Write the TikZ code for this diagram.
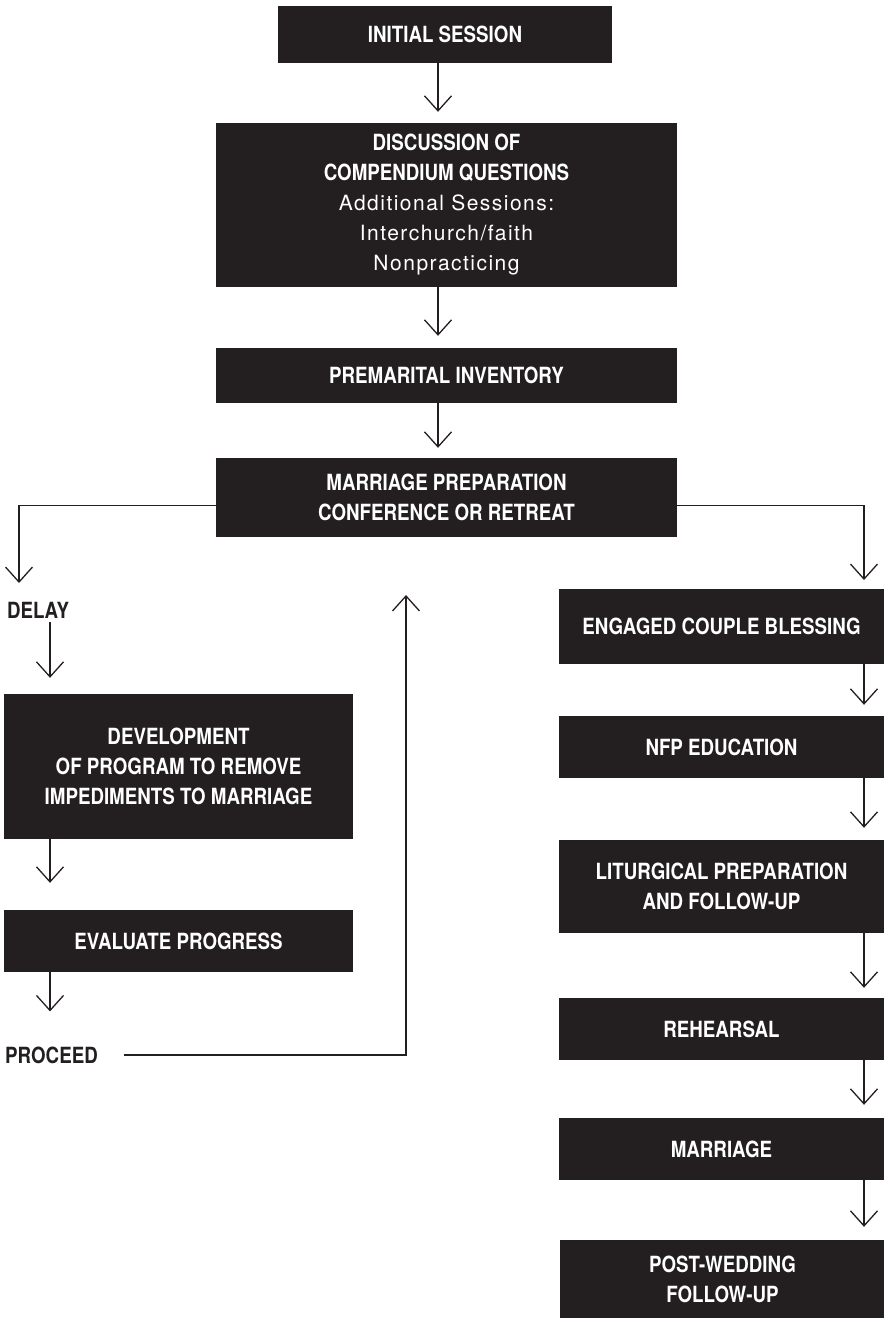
\documentclass[tikz,border=0pt]{standalone}
\usepackage{fontspec}
\setmainfont{TeX Gyre Heros}
\newfontfamily\capsfont{TeX Gyre Heros}[FakeStretch=0.84]
\newfontfamily\spacedfont{TeX Gyre Heros}[LetterSpace=7]
\usetikzlibrary{arrows.meta}
\definecolor{ink}{HTML}{231F20}

\begin{document}
\begin{tikzpicture}[
                x=1pt, y=-1pt,
                darknode/.style={rectangle, fill=ink, text=white, inner sep=0pt, align=center, font=\capsfont\bfseries\fontsize{22.3}{30}\selectfont},
                labelnode/.style={rectangle, inner sep=0pt, text=ink, font=\capsfont\bfseries\fontsize{22.3}{30}\selectfont},
                flow/.style={draw=ink, line width=1.3pt, -{Straight Barb[length=15pt, width=27pt]}},
            ]
            \useasboundingbox (0,0) rectangle (884,1318);

            % Nodes
            \node[darknode, minimum width=334pt, minimum height=57pt]   (initial)      at (445,34.5)    {INITIAL SESSION};
            \node[darknode, minimum width=461pt, minimum height=164pt]  (discussion)   at (446.5,205)   {DISCUSSION OF\\COMPENDIUM QUESTIONS\\{\spacedfont\mdseries\fontsize{21}{30}\selectfont Additional Sessions:}\\{\spacedfont\mdseries\fontsize{21}{30}\selectfont Interchurch/faith}\\{\spacedfont\mdseries\fontsize{21}{30}\selectfont Nonpracticing}};
            \node[darknode, minimum width=461pt, minimum height=55pt]   (inventory)    at (446.5,375.5) {PREMARITAL INVENTORY};
            \node[darknode, minimum width=461pt, minimum height=79pt]   (prep)         at (446.5,497.5) {MARRIAGE PREPARATION\\CONFERENCE OR RETREAT};

            \node[labelnode]                                            (delay)        at (38,610)      {DELAY};
            \node[darknode, minimum width=349pt, minimum height=145pt]  (development)  at (178.5,766.5) {DEVELOPMENT\\OF PROGRAM TO REMOVE\\IMPEDIMENTS TO MARRIAGE};
            \node[darknode, minimum width=349pt, minimum height=62pt]   (evaluate)     at (178.5,941)   {EVALUATE PROGRESS};
            \node[labelnode]                                            (proceed)      at (51.5,1055)   {PROCEED};

            \node[darknode, minimum width=325pt, minimum height=75pt]   (blessing)     at (721.5,626.5) {ENGAGED COUPLE BLESSING};
            \node[darknode, minimum width=325pt, minimum height=62pt]   (nfp)          at (721.5,747)   {NFP EDUCATION};
            \node[darknode, minimum width=325pt, minimum height=93pt]   (liturgy)      at (721.5,886.5) {LITURGICAL PREPARATION\\AND FOLLOW-UP};
            \node[darknode, minimum width=325pt, minimum height=62pt]   (rehearsal)    at (721.5,1029)  {REHEARSAL};
            \node[darknode, minimum width=325pt, minimum height=62pt]   (wedding)      at (721.5,1149)  {MARRIAGE};
            \node[darknode, minimum width=325pt, minimum height=78pt]   (postwedding)  at (722.5,1279)  {POST-WEDDING\\FOLLOW-UP};

            \coordinate (spine)      at (438,0);
            \coordinate (lspine)     at (50,0);
            \coordinate (rspine)     at (864,0);
            \coordinate (delaytip)   at (19,583);
            \coordinate (blesstip)   at (864,580);
            \coordinate (returntip)  at (406,595);

            %Lines
            \draw[flow, shorten >=11pt] (initial.south -| spine) -- (discussion.north -| spine);
            \draw[flow, shorten >=12pt] (discussion.south -| spine) -- (inventory.north -| spine);
            \draw[flow, shorten >=10pt] (inventory.south -| spine) -- (prep.north -| spine);

            \draw[flow] ([yshift=-8pt]prep.west) -| (delaytip);
            \draw[flow] ([yshift=-8pt]prep.east) -| (blesstip);

            \draw[flow, shorten >=16pt] ([yshift=-4pt]delay.south -| lspine) -- (development.north -| lspine);
            \draw[flow, shorten >=27pt] (development.south -| lspine) -- (evaluate.north -| lspine);
            \draw[flow, shorten >=35pt] (evaluate.south -| lspine) -- (proceed.north -| lspine);
            \draw[flow, shorten <=26pt] (proceed.east) -| (returntip);

            \draw[flow, shorten >=11pt] (blessing.south -| rspine) -- (nfp.north -| rspine);
            \draw[flow, shorten >=12pt] (nfp.south -| rspine) -- (liturgy.north -| rspine);
            \draw[flow, shorten >=10pt] (liturgy.south -| rspine) -- (rehearsal.north -| rspine);
            \draw[flow, shorten >=13pt] (rehearsal.south -| rspine) -- (wedding.north -| rspine);
            \draw[flow, shorten >=13pt] (wedding.south -| rspine) -- (postwedding.north -| rspine);
        \end{tikzpicture}
\end{document}
